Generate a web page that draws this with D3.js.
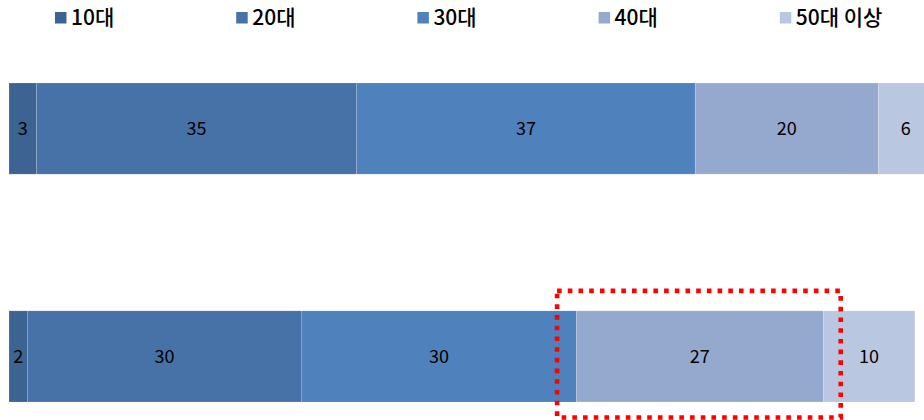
<!DOCTYPE html>
<html>
<head>
<meta charset="utf-8">
<script src="https://cdn.jsdelivr.net/npm/d3@7"></script>
<style>
  html, body { margin: 0; padding: 0; background: #fff; }
  svg { display: block; font-family: "Noto Sans CJK KR", "Noto Sans", sans-serif; }
</style>
</head>
<body>
<svg id="chart"></svg>
<script>
var WIDTH = 924;
var HEIGHT = 420;

// data
var rows = ['row1', 'row2'];
var groups = ['10대', '20대', '30대', '40대', '50대 이상'];
var row1Values = [3, 35, 37, 20, 6];
var row2Values = [2, 30, 30, 27, 10];
var colors = ['#3d6392', '#4672a7', '#4f81bd', '#95a9cf', '#bac7e1'];

// highlight box around 40대 of the second row (in value units)
var highlightFrom = 59.9;
var highlightTo = 90.9;

var seriesValues = [row1Values, row2Values];

var svg = d3.select('#chart')
    .attr('width', WIDTH)
    .attr('height', HEIGHT);

var x = d3.scaleLinear()
    .domain([0, 100])
    .range([9, 924]);

var y = d3.scaleBand()
    .domain(rows)
    .range([83, 402])
    .paddingInner(0.6)
    .paddingOuter(0);

var colorScale = d3.scaleOrdinal()
    .domain(groups)
    .range(colors);

// build stack table
var table = rows.map(function(r, i) {
    var o = { row: r };
    groups.forEach(function(g, j) { o[g] = seriesValues[i][j]; });
    return o;
});
var stack = d3.stack().keys(groups)(table);

svg.append('defs').append('clipPath').attr('id', 'plot')
    .append('rect').attr('x', 0).attr('y', 0).attr('width', WIDTH).attr('height', HEIGHT);

var layer = svg.append('g').attr('clip-path', 'url(#plot)')
    .selectAll('g')
    .data(stack)
    .enter()
    .append('g')
    .attr('fill', function(d) { return colorScale(d.key); });

layer.selectAll('rect')
    .data(function(d) { return d; })
    .enter()
    .append('rect')
    .attr('x', function(d) { return x(d[0]); })
    .attr('y', function(d) { return y(d.data.row); })
    .attr('width', function(d) { return x(d[1]) - x(d[0]); })
    .attr('height', y.bandwidth())
    .attr('stroke', 'rgba(255,255,255,0.25)')
    .attr('stroke-width', 0.6);

layer.selectAll('text')
    .data(function(d) { return d; })
    .enter()
    .append('text')
    .attr('x', function(d) { return (x(d[0]) + x(d[1])) / 2; })
    .attr('y', function(d) { return y(d.data.row) + y.bandwidth() / 2; })
    .attr('dy', '0.38em')
    .attr('text-anchor', 'middle')
    .attr('font-size', 18)
    .attr('fill', '#000')
    .text(function(d) { return d[1] - d[0]; });

// legend
var legend = svg.append('g')
    .selectAll('g')
    .data(groups)
    .enter()
    .append('g')
    .attr('transform', function(d, i) { return 'translate(' + (55 + i * 181.2) + ',0)'; });

legend.append('rect')
    .attr('x', 0)
    .attr('y', 12)
    .attr('width', 11.5)
    .attr('height', 11.5)
    .attr('fill', function(d) { return colorScale(d); });

legend.append('text')
    .attr('x', 16)
    .attr('y', 25)
    .attr('font-size', 21)
    .attr('font-weight', 500)
    .attr('fill', '#000')
    .text(function(d) { return d; });

// red dotted highlight
var row2 = rows[1];
svg.append('rect')
    .attr('x', x(highlightFrom))
    .attr('y', y(row2) - 20)
    .attr('width', x(highlightTo) - x(highlightFrom))
    .attr('height', y.bandwidth() + 35.5)
    .attr('fill', 'none')
    .attr('stroke', '#ff0000')
    .attr('stroke-width', 4.6)
    .attr('stroke-dasharray', '4.6 6.1');
</script>
</body>
</html>
